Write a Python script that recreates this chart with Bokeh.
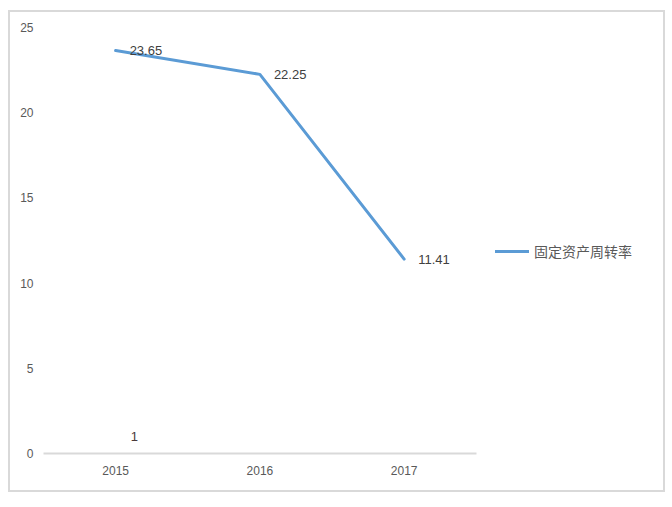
from bokeh.plotting import figure
from bokeh.models import ColumnDataSource, Legend, LegendItem, Range1d, FixedTicker, LabelSet
from bokeh.embed import file_html
from bokeh.resources import INLINE
from bokeh.core.properties import value

years = [2015, 2016, 2017]
year_labels = {2015: "2015", 2016: "2016", 2017: "2017"}
turnover = [23.65, 22.25, 11.41]
turnover_labels = ["23.65", "22.25", "11.41"]
series_name = "固定资产周转率"
aux_years = [2015]
aux_values = [1]
aux_labels = ["1"]
y_ticks = [0, 5, 10, 15, 20, 25]

src = ColumnDataSource(dict(x=years, y=turnover, t=turnover_labels))
aux = ColumnDataSource(dict(x=aux_years, y=aux_values, t=aux_labels))

# plot area: categories span 430px, frame extends right to hold the legend
x_start = years[0] - 0.5
x_end = x_start + 619 / (430 / 3)

p = figure(width=657, height=482, output_backend="svg", toolbar_location=None,
           x_range=Range1d(x_start, x_end),
           y_range=Range1d(0, 25),
           min_border_left=33, min_border_right=1, min_border_top=15, min_border_bottom=41)
p.styles = {"border": "2px solid #d9d9d9", "margin-top": "10px", "margin-left": "8px",
            "box-sizing": "border-box"}
p.outline_line_color = None
p.xgrid.visible = False
p.ygrid.visible = False

r = p.line("x", "y", source=src, line_color="#5b9bd5", line_width=3, line_cap="round", line_join="round")

labels = LabelSet(x="x", y="y", text="t", source=src, x_offset=14, y_offset=0,
                  text_baseline="middle", text_align="left", text_font=value("Liberation Sans"),
                  text_font_size="13px", text_color="#404040")
p.add_layout(labels)
aux_lab = LabelSet(x="x", y="y", text="t", source=aux, x_offset=15, y_offset=0,
                   text_baseline="middle", text_align="left", text_font=value("Liberation Sans"),
                   text_font_size="13px", text_color="#4a3a3a")
p.add_layout(aux_lab)

p.yaxis.ticker = FixedTicker(ticks=y_ticks)
p.yaxis.axis_line_color = None
p.yaxis.major_tick_line_color = None
p.yaxis.minor_tick_line_color = None
p.yaxis.major_label_standoff = 4
p.yaxis.major_label_text_font = "Liberation Sans"
p.yaxis.major_label_text_font_size = "12px"
p.yaxis.major_label_text_color = "#595959"

p.xaxis.ticker = FixedTicker(ticks=years)
p.xaxis.major_label_overrides = year_labels
p.xaxis.bounds = (years[0] - 0.5, years[-1] + 0.5)
p.xaxis.axis_line_color = "#d9d9d9"
p.xaxis.axis_line_width = 2
p.xaxis.major_tick_line_color = None
p.xaxis.minor_tick_line_color = None
p.xaxis.major_label_standoff = 6
p.xaxis.major_label_text_font = "Liberation Sans"
p.xaxis.major_label_text_font_size = "12px"
p.xaxis.major_label_text_color = "#595959"

legend = Legend(items=[LegendItem(label=series_name, renderers=[r])],
                location=(452, 192), border_line_color=None, background_fill_alpha=0,
                glyph_width=34, label_standoff=5, padding=0, margin=0,
                label_text_font="Noto Sans CJK SC", label_text_font_size="14px",
                label_text_color="#595959")
p.add_layout(legend)

open("out.html", "w").write(file_html(p, INLINE))
